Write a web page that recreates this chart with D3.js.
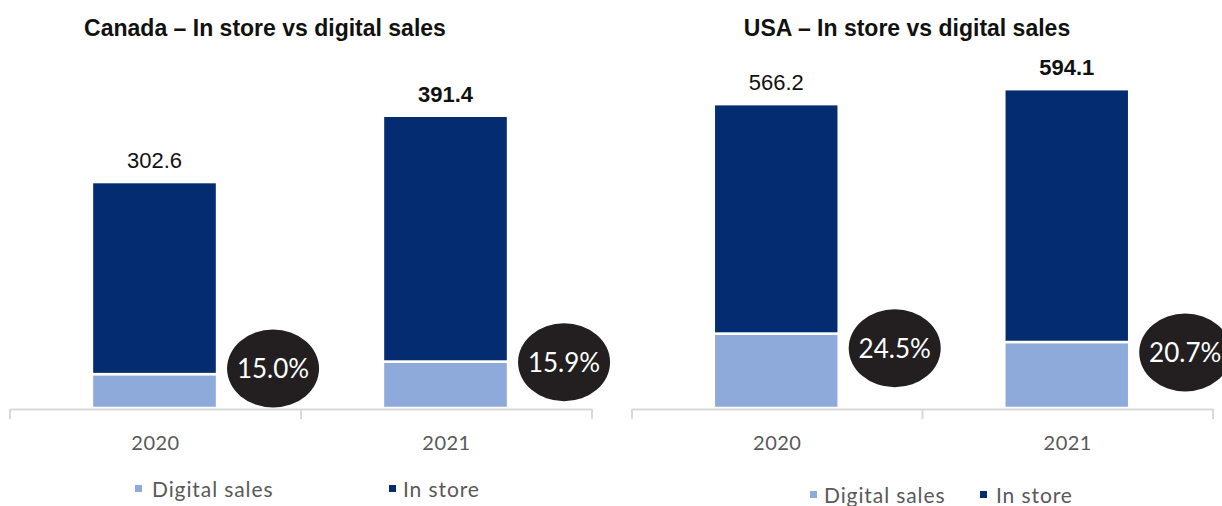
<!DOCTYPE html>
<html>
<head>
<meta charset="utf-8">
<script src="https://cdn.jsdelivr.net/npm/d3@7"></script>
<style>
  body { margin: 0; background: #fff; }
  svg { display: block; }
</style>
</head>
<body>
<div class="canvas"></div>
<script>
// data
const years = ['2020', '2021'];
const canadaTotal = [302.6, 391.4];
const canadaDigitalShare = [15.0, 15.9];
const usaTotal = [566.2, 594.1];
const usaDigitalShare = [24.5, 20.7];
const seriesNames = ['Digital sales', 'In store'];

const colors = { digital: '#8eaadb', store: '#042c71', bubble: '#231f20' };

const svg = d3.select('.canvas')
    .append('svg')
    .attr('width', 1222)
    .attr('height', 506);

const axisY = 409;

const panels = [
    {
        title: 'Canada \u2013 In store vs digital sales', titleX: 265,
        totals: canadaTotal, shares: canadaDigitalShare,
        xRange: [10, 592], yMax: 450, yTop: 72,
        legend: [{ sq: 135, tx: 152 }, { sq: 389, tx: 403 }], legendY: 489
    },
    {
        title: 'USA \u2013 In store vs digital sales', titleX: 907,
        totals: usaTotal, shares: usaDigitalShare,
        xRange: [632, 1213], yMax: 600, yTop: 86,
        legend: [{ sq: 810, tx: 824 }, { sq: 980, tx: 996 }], legendY: 495
    }
];

panels.forEach(p => {
    const g = svg.append('g');

    const data = years.map((yr, i) => {
        const digital = p.totals[i] * p.shares[i] / 100;
        return { year: yr, total: p.totals[i], share: p.shares[i], digital: digital, store: p.totals[i] - digital };
    });

    const x = d3.scaleBand()
        .domain(years)
        .range(p.xRange);

    const y = d3.scaleLinear()
        .domain([0, p.yMax])
        .range([axisY - 1, p.yTop]);

    const barW = x.bandwidth() * 0.43;
    const barX = d => x(d.year) + (x.bandwidth() - barW) / 2 - 1;

    // title
    g.append('text')
        .attr('x', p.titleX)
        .attr('y', 36)
        .attr('text-anchor', 'middle')
        .attr('font-family', 'Liberation Sans, Arial, sans-serif')
        .attr('font-weight', 'bold')
        .attr('font-size', 23)
        .attr('fill', '#111')
        .text(p.title);

    // stacked bars
    const stack = d3.stack().keys(['digital', 'store'])(data);
    g.selectAll('g.layer')
        .data(stack)
        .enter()
        .append('g')
        .attr('class', 'layer')
        .attr('fill', d => colors[d.key])
        .selectAll('rect')
        .data(d => d)
        .enter()
        .append('rect')
        .attr('x', d => barX(d.data))
        .attr('width', barW)
        .attr('y', d => y(d[1]))
        .attr('height', d => y(d[0]) - y(d[1]))
        .attr('stroke', '#fff')
        .attr('stroke-width', 2.5);

    // total labels
    g.selectAll('text.total')
        .data(data)
        .enter()
        .append('text')
        .attr('class', 'total')
        .attr('x', d => barX(d) + barW / 2)
        .attr('y', d => y(d.total) - 14)
        .attr('text-anchor', 'middle')
        .attr('font-family', 'Liberation Sans, Arial, sans-serif')
        .attr('font-size', 22)
        .attr('font-weight', (d, i) => i === 1 ? 'bold' : 'normal')
        .attr('fill', '#111')
        .text(d => d.total.toFixed(1));

    // share bubbles
    const bubbles = g.selectAll('g.bubble')
        .data(data)
        .enter()
        .append('g')
        .attr('class', 'bubble')
        .attr('transform', d => `translate(${barX(d) + barW + 56}, ${(y(d.digital) + axisY - 46) / 2})`);

    bubbles.append('ellipse')
        .attr('rx', 46)
        .attr('ry', 39)
        .attr('fill', colors.bubble);

    bubbles.append('text')
        .attr('text-anchor', 'middle')
        .attr('dy', '0.36em')
        .attr('font-family', 'Lato, Carlito, Calibri, sans-serif')
        .attr('font-size', 26)
        .attr('fill', '#fff')
        .text(d => d.share.toFixed(1) + '%');

    // x axis
    const xAxis = d3.axisBottom(x).tickSize(0).tickPadding(27);
    const xAxisGroup = g.append('g')
        .attr('transform', `translate(0, ${axisY})`)
        .call(xAxis);
    xAxisGroup.select('.domain').attr('stroke', '#d9d9d9').attr('stroke-width', 2);
    xAxisGroup.selectAll('text')
        .attr('font-family', 'Lato, Carlito, Calibri, sans-serif')
        .attr('font-size', 20)
        .attr('letter-spacing', 0.5)
        .attr('fill', '#595959');

    // category boundary ticks
    const edges = years.map(d => x(d)).concat([x.range()[1]]);
    xAxisGroup.selectAll('line.edge')
        .data(edges)
        .enter()
        .append('line')
        .attr('class', 'edge')
        .attr('x1', d => d).attr('x2', d => d)
        .attr('y1', 0).attr('y2', 10)
        .attr('stroke', '#d9d9d9')
        .attr('stroke-width', 2);

    // legend
    const leg = g.selectAll('g.legend')
        .data(seriesNames)
        .enter()
        .append('g')
        .attr('class', 'legend');
    leg.append('rect')
        .attr('x', (d, i) => p.legend[i].sq)
        .attr('y', p.legendY - 4)
        .attr('width', 7)
        .attr('height', 7)
        .attr('fill', (d, i) => i === 0 ? colors.digital : colors.store);
    leg.append('text')
        .attr('x', (d, i) => p.legend[i].tx)
        .attr('y', p.legendY)
        .attr('dy', '0.36em')
        .attr('font-family', 'Lato, Carlito, Calibri, sans-serif')
        .attr('font-size', 21)
        .attr('letter-spacing', 0.9)
        .attr('fill', '#595959')
        .text(d => d);
});
</script>
</body>
</html>
